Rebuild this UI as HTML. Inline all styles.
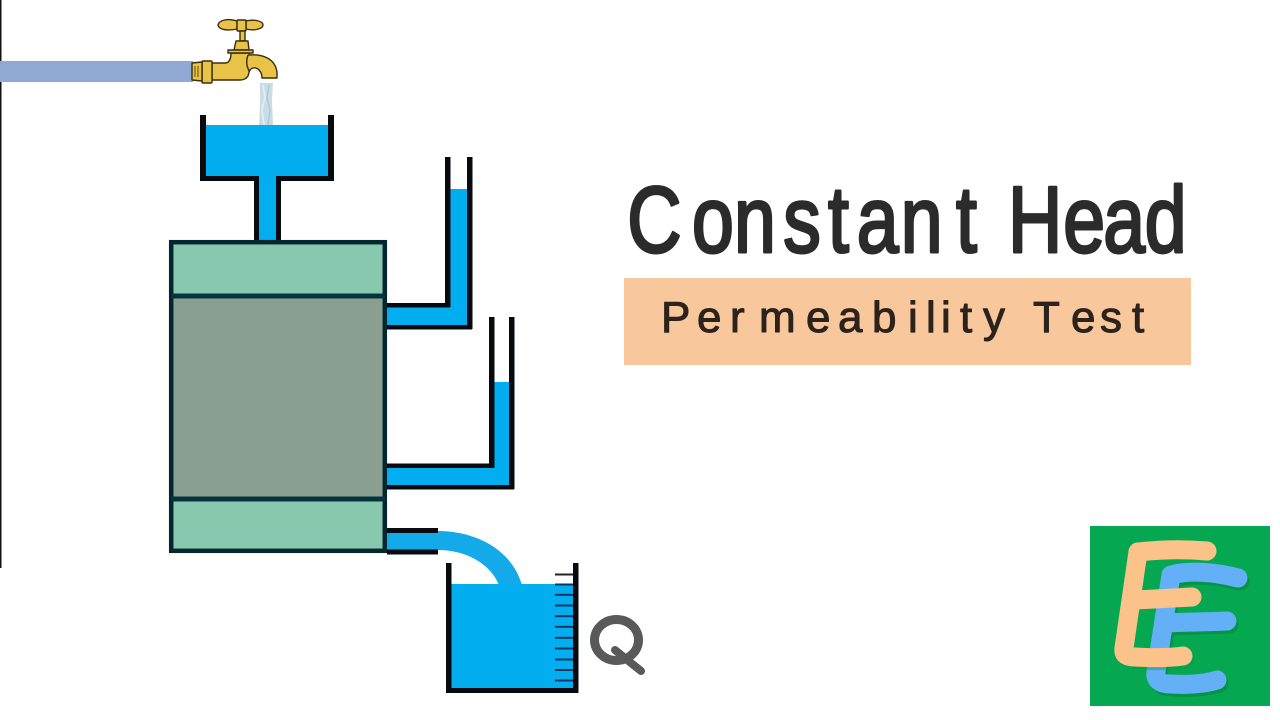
<!DOCTYPE html>
<html><head><meta charset="utf-8"><style>
html,body{margin:0;padding:0;background:#fff;width:1280px;height:720px;overflow:hidden}
svg{display:block}
</style></head><body>
<svg width="1280" height="720" viewBox="0 0 1280 720" xmlns="http://www.w3.org/2000/svg">
<rect width="1280" height="720" fill="#fff"/>
<rect x="0" y="0" width="1.5" height="568" fill="#111"/>
<!-- pipe -->
<rect x="0" y="61" width="193" height="21" fill="#8fa9d2"/>
<!-- water stream -->
<path d="M260 83H273L272 100L273 125H259L260 105Z" fill="#cadde6"/>
<g fill="none" stroke-linecap="round">
<path d="M263 85L265 97L262 110L264 124" stroke="#e6f0f3" stroke-width="1.500"/>
<path d="M269 85L267 98L270 110L268 124" stroke="#aecad8" stroke-width="1.500"/>
</g>
<!-- faucet -->
<g stroke="#3b2c0e" stroke-width="1.400" stroke-linejoin="round" fill="#e8c347">
<path d="M237 21C228 18 219 20 218 25C219 30 228 31 237 29Z"/>
<path d="M246 21C254 19 263 21 263 25C263 29 254 31 246 29Z"/>
<rect x="237" y="20" width="9" height="11" rx="1"/>
<rect x="240" y="31" width="5" height="10"/>
<path d="M236 41H248L249 50H234Z"/>
<path d="M212 63L226 63C230 62 231 58 231 53H249V55C262 54 275 58 277 72L277 78H262C262 72 258 67 253 68C249 69 249 73 248 76C246 79 243 80 240 80H212Z"/>
<path d="M228 50H253V53H228Z"/>
<path d="M248 55C246 60 246 65 249 71" fill="none"/>
<rect x="202" y="61" width="10" height="22" rx="1"/>
<path d="M192 63L202 62V81L192 80Z"/>
<path d="M195 66V77M198 66V77" fill="none" stroke-width=".8"/>
</g>
<!-- funnel -->
<path d="M206 125H328V176H276V241H259V176H206Z" fill="#02aeef"/>
<g fill="#070b10">
<rect x="200" y="115" width="6" height="66"/>
<rect x="328" y="115" width="6" height="66"/>
<rect x="203" y="176" width="54" height="5"/>
<rect x="276" y="176" width="55" height="5"/>
<rect x="254" y="176" width="5" height="66"/>
<rect x="276" y="176" width="5" height="66"/>
</g>
<!-- piezometer 1 -->
<path d="M387 307H446V189H467V325H387Z" fill="#02aeef"/>
<g fill="#070b10">
<rect x="445" y="157" width="5.500" height="150"/>
<rect x="467" y="157" width="5.500" height="172"/>
<rect x="387" y="303" width="63" height="4.500"/>
<rect x="387" y="325" width="85" height="4.500"/>
</g>
<!-- piezometer 2 -->
<path d="M387 468H490V382H509V485H387Z" fill="#02aeef"/>
<g fill="#070b10">
<rect x="489" y="317" width="5.500" height="151"/>
<rect x="509" y="317" width="5.500" height="172"/>
<rect x="387" y="463.500" width="107" height="4.500"/>
<rect x="387" y="485" width="127" height="4.500"/>
</g>
<!-- sample box -->
<rect x="171" y="242" width="214" height="309" fill="#88c8ae"/>
<rect x="171" y="296" width="214" height="203" fill="#8a9f92"/>
<rect x="171.200" y="242.200" width="213.600" height="308.600" fill="none" stroke="#04262e" stroke-width="4.500"/>
<rect x="171" y="293.500" width="214" height="5" fill="#04333d"/>
<rect x="171" y="496.500" width="214" height="5" fill="#04333d"/>
<!-- outlet + curve -->
<path d="M387 531H438C470 531 510 545 522 585H499C490 563 465 550 438 550H387Z" fill="#14a9e9"/>
<rect x="387" y="528" width="51" height="5" fill="#070b10"/>
<rect x="387" y="549.500" width="51" height="5" fill="#070b10"/>
<!-- beaker -->
<rect x="451" y="584" width="122" height="105" fill="#02aeef"/>
<g fill="#070b10">
<rect x="446" y="563" width="5.500" height="130"/>
<rect x="573" y="563" width="5.500" height="130"/>
<rect x="447" y="688" width="131" height="5"/>
</g>
<g fill="#0c3560">
<rect x="555" y="573.500" width="18" height="2" fill="#222"/>
<rect x="555" y="583.500" width="18" height="2"/>
<rect x="555" y="593.800" width="18" height="2"/>
<rect x="555" y="604.500" width="18" height="2"/>
<rect x="555" y="615.200" width="18" height="2"/>
<rect x="555" y="625.800" width="18" height="2"/>
<rect x="555" y="636.800" width="18" height="2"/>
<rect x="555" y="647.500" width="18" height="2"/>
<rect x="555" y="658.500" width="18" height="2"/>
<rect x="555" y="669" width="18" height="2"/>
<rect x="555" y="679.500" width="18" height="2"/>
</g>
<!-- Q -->
<ellipse cx="616.500" cy="640" rx="22" ry="20.500" fill="none" stroke="#595959" stroke-width="9"/>
<path d="M615 650L641 671" fill="none" stroke="#595959" stroke-width="8" stroke-linecap="round"/>
<!-- title -->
<g font-family="Liberation Sans, DejaVu Sans, sans-serif">
<text transform="translate(0,252) scale(.8,1)" y="0" x="784 865 917.500 979 1035 1071 1126 1195 1250 1260 1329 1379 1431" font-size="94" fill="#2b2b2b" stroke="#2b2b2b" stroke-width="3" stroke-linejoin="round" stroke-linecap="round">Constant Head</text>
<rect x="624" y="278" width="567" height="87" fill="#f9c79c"/>
<text y="332" x="661 697 730 759 806 838 872 908 926 941 960 983 1015 1033 1071 1100 1132" font-size="44" fill="#2c231c" stroke="#2c231c" stroke-width="1" stroke-linejoin="round">Permeability Test</text>
</g>
<!-- logo -->
<rect x="1090" y="526" width="180" height="180" fill="#05a850"/>
<g fill="none" stroke-linecap="round" stroke-linejoin="round" stroke-width="19">
<g stroke="#049444" transform="translate(2,3)">
<path d="M1171 575C1190 570 1215 572 1238 578"/>
<path d="M1171 575L1156 672C1155 680 1160 684 1170 684C1190 685 1205 684 1217 680"/>
<path d="M1165 623C1185 622 1205 622 1227 621"/>
</g>
<g stroke="#64b0f7">
<path d="M1171 575C1190 570 1215 572 1238 578"/>
<path d="M1171 575L1156 672C1155 680 1160 684 1170 684C1190 685 1205 684 1217 680"/>
<path d="M1165 623C1185 622 1205 622 1227 621"/>
</g>
<g stroke="#049444" stroke-opacity=".35" transform="translate(2,3)">
<path d="M1183 656C1165 658 1150 658 1135 657"/>
</g>
<g stroke="#fbc38a">
<path d="M1138 552C1165 549 1185 549 1207 551"/>
<path d="M1138 552L1124 648C1123 655 1127 657 1135 657C1155 658 1170 658 1183 656"/>
<path d="M1135 600C1155 599 1175 598 1192 597"/>
</g>
</g>
</svg>
</body></html>
